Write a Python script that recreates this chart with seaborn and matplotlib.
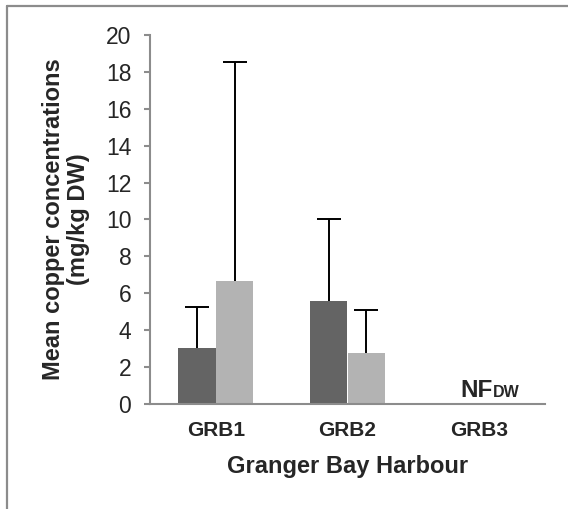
import matplotlib
matplotlib.use("Agg")
import matplotlib.pyplot as plt
from matplotlib.lines import Line2D
import numpy as np
import pandas as pd
import seaborn as sns

# Mean copper concentrations (mg/kg DW) per site, two sampling rounds
sites = ["GRB1", "GRB2", "GRB3"]
round_names = ["Round 1", "Round 2"]
round1_mean = [3.03, 5.60, 0.0]
round2_mean = [6.68, 2.74, 0.0]
round1_sd = [2.24, 4.42, np.nan]
round2_sd = [11.86, 2.37, np.nan]
y_ticks = [0, 2, 4, 6, 8, 10, 12, 14, 16, 18, 20]
not_found_label = "NF"
not_found_sub = "DW"

df = pd.DataFrame({
    "site": sites * 2,
    "round": [round_names[0]] * 3 + [round_names[1]] * 3,
    "mean": round1_mean + round2_mean,
})

sns.set_theme(style="white")
plt.rcParams["font.family"] = ["Liberation Sans", "DejaVu Sans"]

W, H = 568, 509
fig = plt.figure(figsize=(W / 100, H / 100), dpi=100)
ax = fig.add_axes([150 / W, 105 / H, 395 / W, 369 / H])

dark, light = "#646464", "#b3b3b3"
sns.barplot(data=df, x="site", y="mean", hue="round", order=sites,
            hue_order=round_names, palette=[dark, light], width=0.57,
            gap=0, errorbar=None, legend=False, ax=ax, linewidth=0,
            saturation=1)

# Plus-direction error bars (standard deviation)
for cont, sd, means in zip(ax.containers, [round1_sd, round2_sd],
                           [round1_mean, round2_mean]):
    xs = [p.get_x() + p.get_width() / 2 for p in cont.patches]
    for x, m, s in zip(xs, means, sd):
        if np.isnan(s):
            continue
        _, caps, _ = ax.errorbar([x], [m], yerr=[[0], [s]], fmt="none",
                                 ecolor="black", elinewidth=1.4,
                                 capsize=8.5, capthick=1.4, zorder=3)
        caps[0].set_visible(False)

ax.set_xlim(-0.5, 2.5)
ax.set_ylim(0, 20)
ax.set_yticks(y_ticks)
ax.set_yticklabels([str(t) for t in y_ticks], fontsize=16.5)

spine_col = "#8c8c8c"
for side in ["top", "right"]:
    ax.spines[side].set_visible(False)
for side in ["left", "bottom"]:
    ax.spines[side].set_color(spine_col)
    ax.spines[side].set_linewidth(1.5)

ax.tick_params(axis="y", length=4.5, width=1.5, color=spine_col, pad=9,
               left=True)
ax.tick_params(axis="x", length=0, pad=12, labelsize=15)
for lab in ax.get_xticklabels():
    lab.set_fontweight("bold")

ax.set_xlabel("Granger Bay Harbour", fontsize=17, fontweight="bold",
              labelpad=11)
ax.set_ylabel("Mean copper concentrations\n(mg/kg DW)", fontsize=17,
              fontweight="bold", labelpad=11, linespacing=1.15)

# "not found" label over the empty GRB3 group
nf = ax.annotate(not_found_label, xy=(2.105, 0), xytext=(0, 5),
                 textcoords="offset points", ha="right", va="baseline",
                 fontsize=17.5, fontweight="bold")
ax.annotate(not_found_sub, xy=(1, 0), xycoords=(nf, "data"),
            xytext=(0, 5), textcoords="offset points", ha="left",
            va="baseline", fontsize=11.5, fontweight="bold")

# Chart-area border (top and left edges)
fig.add_artist(Line2D([7 / W, 7 / W], [-0.1, 1 - 6 / H],
                      transform=fig.transFigure, color=spine_col, lw=1.6))
fig.add_artist(Line2D([7 / W, 1.1], [1 - 6 / H, 1 - 6 / H],
                      transform=fig.transFigure, color=spine_col, lw=1.6))

fig.savefig("out.png", dpi=100, facecolor="white")
